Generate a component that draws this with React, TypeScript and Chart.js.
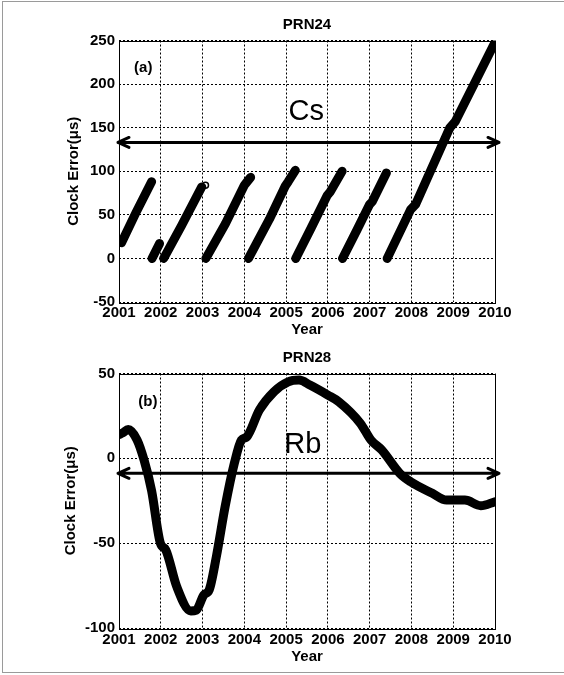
import React, { useEffect, useRef } from "react";
import { Chart, registerables } from "chart.js";

Chart.register(...registerables);

const FONT = "'Liberation Sans', Arial, Helvetica, sans-serif";

// Shared time axis (years)
const yearTicks = [2001, 2002, 2003, 2004, 2005, 2006, 2007, 2008, 2009, 2010];

// PRN24 (caesium clock): clock error in microseconds, reset roughly once a year.
// A null error breaks the trace between resets.
const prn24Years = [
  2001.06, 2001.4, 2001.78, 2001.78,
  2001.79, 2001.97, 2001.97,
  2002.07, 2002.5, 2002.98, 2002.98,
  2003.08, 2003.55, 2004.0, 2004.05, 2004.15, 2004.15,
  2004.1, 2004.6, 2004.98, 2005.05, 2005.22, 2005.22,
  2005.23, 2005.6, 2005.98, 2006.05, 2006.34, 2006.34,
  2006.35, 2006.7, 2007.0, 2007.06, 2007.4, 2007.4,
  2007.42, 2007.98, 2008.1, 2008.5, 2008.92, 2009.05, 2009.5, 2010.0,
];
const prn24Errors = [
  18, 52, 88, null,
  0, 17, null,
  0, 38, 82, null,
  0, 40, 84, 87, 93, null,
  0, 45, 83, 88, 101, null,
  0, 35, 72, 76, 100, null,
  0, 33, 62, 65, 98, null,
  0, 56, 62, 105, 150, 157, 200, 248,
];
// Isolated sample drawn as an open marker
const prn24MarkerYears = [2003.07];
const prn24MarkerErrors = [84];

// PRN28 (rubidium clock): clock error in microseconds
const prn28Years = [
  2001.0, 2001.09, 2001.22, 2001.43, 2001.6, 2001.78, 2001.99, 2002.12, 2002.38,
  2002.72, 2002.85, 2003.03, 2003.16, 2003.33, 2003.54, 2003.76, 2003.93, 2004.06,
  2004.36, 2004.71, 2005.05, 2005.31, 2005.57, 2006.0, 2006.26, 2006.78, 2007.03,
  2007.29, 2007.72, 2007.98, 2008.5, 2008.84, 2009.28, 2009.66, 2010.0,
];
const prn28Errors = [
  14, 15, 17, 11, -1, -19, -50, -54, -75.5,
  -90, -89.5, -80.5, -77.5, -58, -28.5, -3, 10.8, 12.7,
  28.5, 39.3, 45.1, 46.1, 43.2, 37.3, 33.4, 20.6, 10.8,
  4.9, -8.8, -13.8, -20.6, -24.6, -24.6, -27.9, -25.6,
];

// Mean-level arrows for each clock type
const cesiumArrowLevel = 133;
const rubidiumArrowLevel = -8.8;

const prn24Ticks = [-50, 0, 50, 100, 150, 200, 250];
const prn28Ticks = [-100, -50, 0, 50];

type Panel = {
  title: string;
  years: number[];
  errors: (number | null)[];
  markerYears?: number[];
  markerErrors?: number[];
  smooth: boolean;
  yTicks: number[];
  arrowLevel: number;
  tag: string;
  tagAt: [number, number];
  clock: string;
  clockAt: [number, number];
  // layout
  height: number;
  titleY: number;
  plotTop: number;
  xAxisHeight: number;
  yearPad: number;
  xTickPad: number;
  yTitlePad: number;
};

const overlayPlugin = (p: Panel) => ({
  id: "clockOverlay",
  afterDatasetsDraw(chart: any) {
    const { ctx, chartArea } = chart;
    const xs = chart.scales.x;
    const ys = chart.scales.y;
    ctx.save();

    // plot box
    ctx.strokeStyle = "#000";
    ctx.lineWidth = 1;
    ctx.setLineDash([]);
    ctx.strokeRect(
      Math.round(chartArea.left) + 0.5,
      Math.round(chartArea.top) + 0.5,
      Math.round(chartArea.right - chartArea.left),
      Math.round(chartArea.bottom - chartArea.top)
    );

    // double-headed level arrow
    const ay = ys.getPixelForValue(p.arrowLevel);
    const x1 = chartArea.left - 1;
    const x2 = chartArea.right + 4;
    ctx.lineWidth = 3;
    ctx.lineCap = "round";
    ctx.lineJoin = "round";
    ctx.beginPath();
    ctx.moveTo(x1, ay);
    ctx.lineTo(x2, ay);
    ctx.moveTo(x1 + 11, ay - 5);
    ctx.lineTo(x1, ay);
    ctx.lineTo(x1 + 11, ay + 5);
    ctx.moveTo(x2 - 11, ay - 5);
    ctx.lineTo(x2, ay);
    ctx.lineTo(x2 - 11, ay + 5);
    ctx.stroke();

    ctx.fillStyle = "#000";
    ctx.textAlign = "center";
    ctx.textBaseline = "middle";

    // panel title, centred over the plot box
    ctx.font = `bold 15px ${FONT}`;
    ctx.fillText(p.title, (chartArea.left + chartArea.right) / 2, p.titleY);

    // panel tag and clock-type label
    ctx.font = `bold 15px ${FONT}`;
    ctx.fillText(p.tag, xs.getPixelForValue(p.tagAt[0]), ys.getPixelForValue(p.tagAt[1]));
    ctx.font = `29px ${FONT}`;
    ctx.fillText(p.clock, xs.getPixelForValue(p.clockAt[0]), ys.getPixelForValue(p.clockAt[1]));
    ctx.restore();
  },
});

function buildConfig(p: Panel): any {
  const points = p.years.map((x, i) => ({ x, y: p.errors[i] }));
  const datasets: any[] = [
    {
      data: points,
      borderColor: "#000",
      borderWidth: 9,
      pointRadius: 0,
      borderCapStyle: "round",
      borderJoinStyle: "round",
      spanGaps: false,
      cubicInterpolationMode: p.smooth ? "monotone" : "default",
      tension: p.smooth ? 0.4 : 0,
    },
  ];
  if (p.markerYears && p.markerErrors) {
    datasets.push({
      data: p.markerYears.map((x, i) => ({ x, y: p.markerErrors![i] })),
      showLine: false,
      pointRadius: 3,
      pointBorderWidth: 1.5,
      pointBorderColor: "#000",
      pointBackgroundColor: "#fff",
    });
  }
  const tickFont = { family: FONT, size: 15, weight: "bold" as const };
  const titleFont = { family: FONT, size: 15, weight: "bold" as const, lineHeight: 1.2 };
  return {
    type: "line",
    data: { datasets },
    options: {
      responsive: false,
      animation: false,
      events: [],
      layout: { padding: { left: 0, right: 69, top: p.plotTop, bottom: 0 } },
      plugins: {
        legend: { display: false },
        tooltip: { enabled: false },
        title: { display: false },
      },
      scales: {
        x: {
          type: "linear",
          min: yearTicks[0],
          max: yearTicks[yearTicks.length - 1],
          afterBuildTicks: (s: any) => {
            s.ticks = yearTicks.map((v) => ({ value: v }));
          },
          afterFit: (s: any) => {
            s.height = p.xAxisHeight;
          },
          ticks: {
            color: "#000",
            font: tickFont,
            padding: p.xTickPad,
            autoSkip: false,
            maxRotation: 0,
            callback: (v: number) => String(v),
          },
          grid: { color: "#000", lineWidth: 1, drawTicks: false },
          border: { display: false, dash: [2, 2] },
          title: {
            display: true,
            text: "Year",
            color: "#000",
            font: titleFont,
            padding: { top: 0, bottom: p.yearPad },
          },
        },
        y: {
          type: "linear",
          min: p.yTicks[0],
          max: p.yTicks[p.yTicks.length - 1],
          afterBuildTicks: (s: any) => {
            s.ticks = p.yTicks.map((v) => ({ value: v }));
          },
          afterFit: (s: any) => {
            s.width = 119;
          },
          ticks: {
            color: "#000",
            font: tickFont,
            padding: 4,
            callback: (v: number) => String(v),
          },
          grid: { color: "#000", lineWidth: 1, drawTicks: false },
          border: { display: false, dash: [2, 2] },
          title: {
            display: true,
            text: "Clock Error(μs)",
            color: "#000",
            font: titleFont,
            padding: { top: p.yTitlePad, bottom: 0 },
          },
        },
      },
    },
    plugins: [overlayPlugin(p)],
  };
}

const panels: Panel[] = [
  {
    title: "PRN24",
    years: prn24Years,
    errors: prn24Errors,
    markerYears: prn24MarkerYears,
    markerErrors: prn24MarkerErrors,
    smooth: false,
    yTicks: prn24Ticks,
    arrowLevel: cesiumArrowLevel,
    tag: "(a)",
    tagAt: [2001.58, 219],
    clock: "Cs",
    clockAt: [2005.48, 168],
    height: 340,
    titleY: 25,
    plotTop: 40.5,
    xAxisHeight: 38,
    yearPad: 1.5,
    xTickPad: 2,
    yTitlePad: 65,
  },
  {
    title: "PRN28",
    years: prn28Years,
    errors: prn28Errors,
    smooth: true,
    yTicks: prn28Ticks,
    arrowLevel: rubidiumArrowLevel,
    tag: "(b)",
    tagAt: [2001.69, 33.4],
    clock: "Rb",
    clockAt: [2005.4, 7.8],
    height: 335,
    titleY: 18,
    plotTop: 33.5,
    xAxisHeight: 47,
    yearPad: 9,
    xTickPad: 3,
    yTitlePad: 62,
  },
];

function ClockPanel({ panel }: { panel: Panel }) {
  const ref = useRef<HTMLCanvasElement | null>(null);
  useEffect(() => {
    if (!ref.current) return;
    const chart = new Chart(ref.current, buildConfig(panel));
    return () => chart.destroy();
  }, [panel]);
  return (
    <canvas
      ref={ref}
      width={564}
      height={panel.height}
      style={{ display: "block", width: 564, height: panel.height }}
    />
  );
}

export default function App() {
  useEffect(() => {
    document.body.style.margin = "0";
  }, []);
  return (
    <div style={{ position: "relative", width: 564, height: 675, background: "#fff" }}>
      <div
        style={{
          position: "absolute",
          left: 2,
          top: 1,
          width: 562,
          height: 672,
          borderLeft: "1px solid #9a9a9a",
          borderTop: "1px solid #9a9a9a",
          borderBottom: "1px solid #9a9a9a",
          boxSizing: "border-box",
        }}
      />
      {panels.map((p) => (
        <ClockPanel key={p.title} panel={p} />
      ))}
    </div>
  );
}
